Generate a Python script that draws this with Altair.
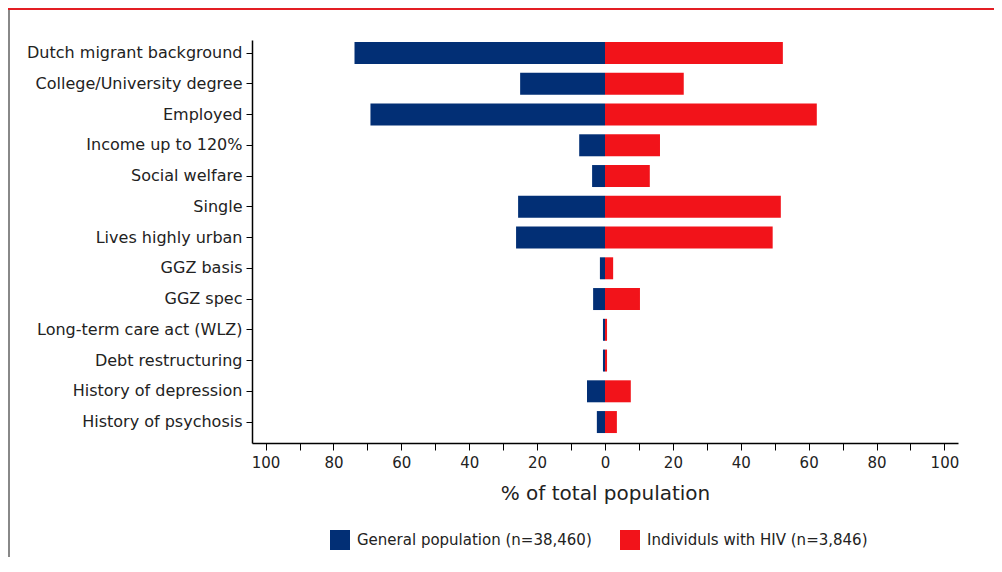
import altair as alt
import pandas as pd

categories = [
    "Dutch migrant background",
    "College/University degree",
    "Employed",
    "Income up to 120%",
    "Social welfare",
    "Single",
    "Lives highly urban",
    "GGZ basis",
    "GGZ spec",
    "Long-term care act (WLZ)",
    "Debt restructuring",
    "History of depression",
    "History of psychosis",
]
general_pop = [73.8, 25.0, 69.1, 7.6, 3.8, 25.6, 26.2, 1.5, 3.5, 0.6, 0.6, 5.3, 2.4]
hiv_pop = [52.4, 23.2, 62.4, 16.2, 13.2, 51.8, 49.4, 2.4, 10.3, 0.6, 0.6, 7.6, 3.5]
series = ["General population (n=38,460)", "Individuls with HIV (n=3,846)"]
colors = ["#022F75", "#F2131A"]

rows = []
for c, g, h in zip(categories, general_pop, hiv_pop):
    rows.append({"category": c, "group": series[0], "value": -g})
    rows.append({"category": c, "group": series[1], "value": h})
df = pd.DataFrame(rows)

FONT = "DejaVu Sans"
W, H = 706, 403

bars = alt.Chart(df).mark_bar().encode(
    y=alt.Y(
        "category:N",
        sort=categories,
        scale=alt.Scale(paddingInner=0.285, paddingOuter=0.195, align=0.17),
        axis=alt.Axis(
            title=None,
            labelFontSize=16,
            labelFont=FONT,
            labelColor="#222222",
            labelPadding=4,
            labelLimit=400,
            tickSize=6,
            tickColor="#000000",
            domainColor="#000000",
            domainWidth=1.5,
            grid=False,
        ),
    ),
    x=alt.X(
        "value:Q",
        stack=None,
        scale=alt.Scale(domain=[-104, 104], nice=False),
        axis=alt.Axis(
            title="% of total population",
            titleFontSize=20,
            titleFont=FONT,
            titleFontWeight="normal",
            titleColor="#222222",
            titlePadding=13,
            values=list(range(-100, 101, 10)),
            labelExpr="datum.value % 20 == 0 ? abs(datum.value) : ''",
            labelFontSize=15,
            labelFont=FONT,
            labelColor="#222222",
            labelPadding=5,
            tickSize=7,
            tickColor="#000000",
            domainColor="#000000",
            domainWidth=1.5,
            grid=False,
        ),
    ),
    color=alt.Color(
        "group:N",
        sort=series,
        scale=alt.Scale(domain=series, range=colors),
        legend=alt.Legend(
            title=None,
            orient="none",
            legendX=78,
            legendY=490,
            direction="horizontal",
            symbolType="square",
            symbolSize=400,
            symbolStrokeWidth=0,
            labelFontSize=15,
            labelFont=FONT,
            labelColor="#222222",
            labelOffset=7,
            labelLimit=400,
            columnPadding=28,
        ),
    ),
)

frame_df = pd.DataFrame({"k": [0]})
top_line = alt.Chart(frame_df).mark_rule(color="#E31E24", strokeWidth=2).encode(
    x=alt.value(-244), x2=alt.value(750), y=alt.value(-31)
)
left_line = alt.Chart(frame_df).mark_rule(color="#888888", strokeWidth=2).encode(
    x=alt.value(-243), y=alt.value(-30), y2=alt.value(540)
)

chart = alt.layer(bars, top_line, left_line).properties(
    width=W,
    height=H,
    background="white",
    autosize=alt.AutoSizeParams(type="none"),
    padding={"left": 244, "top": 32, "right": 36, "bottom": 114},
).configure_view(stroke=None)

chart.save("out.html", embed_options={"renderer": "svg", "actions": False})
